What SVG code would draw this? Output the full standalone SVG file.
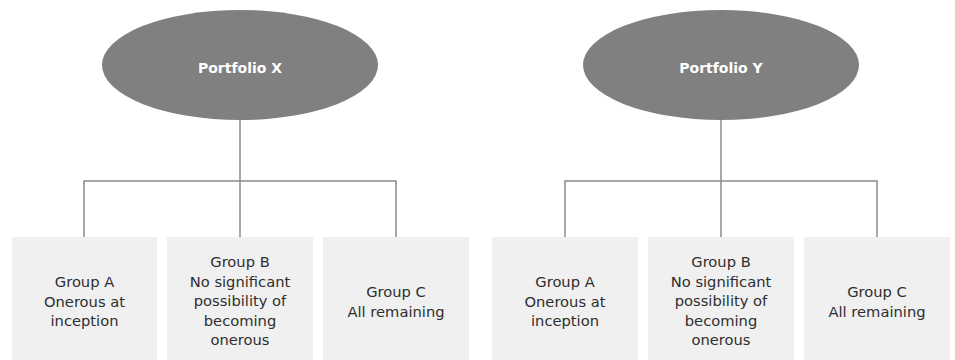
<svg xmlns="http://www.w3.org/2000/svg" width="955" height="360" viewBox="0 0 955 360">
<style>
.ell{fill:#808080}
.box{fill:#f0f0f0}
.conn{fill:none;stroke:#8a8a8a;stroke-width:1.5}
.t{font-family:"DejaVu Sans","Liberation Sans",sans-serif;font-size:14.7px;fill:#2e2e2e;text-anchor:middle}
.h{font-family:"DejaVu Sans","Liberation Sans",sans-serif;font-size:14px;font-weight:bold;fill:#ffffff;text-anchor:middle}
</style>
<rect width="955" height="360" fill="#ffffff"/>
<g id="connectors">
<path class="conn" d="M240,120 V181 M84,237 V181 H396 V237 M240,181 V237"/>
<path class="conn" d="M721,120 V181 M565,237 V181 H877 V237 M721,181 V237"/>
</g>
<g id="portfolio-x"><ellipse class="ell" cx="240" cy="65" rx="138" ry="55"/><text class="h" x="240" y="73">Portfolio X</text></g>
<g id="portfolio-y"><ellipse class="ell" cx="721" cy="65" rx="138" ry="55"/><text class="h" x="721" y="73">Portfolio Y</text></g>
<g id="x-group-a"><rect class="box" x="12" y="237" width="145" height="123"/><text class="t" x="84.5" y="287">Group A</text><text class="t" x="84.5" y="306.5">Onerous at</text><text class="t" x="84.5" y="326">inception</text></g>
<g id="x-group-b"><rect class="box" x="167" y="237" width="146" height="123"/><text class="t" x="240" y="267">Group B</text><text class="t" x="240" y="286.5">No significant</text><text class="t" x="240" y="306">possibility of</text><text class="t" x="240" y="325.5">becoming</text><text class="t" x="240" y="345">onerous</text></g>
<g id="x-group-c"><rect class="box" x="323" y="237" width="146" height="123"/><text class="t" x="396" y="297">Group C</text><text class="t" x="396" y="316.5">All remaining</text></g>
<g id="y-group-a"><rect class="box" x="492" y="237" width="146" height="123"/><text class="t" x="565" y="287">Group A</text><text class="t" x="565" y="306.5">Onerous at</text><text class="t" x="565" y="326">inception</text></g>
<g id="y-group-b"><rect class="box" x="648" y="237" width="146" height="123"/><text class="t" x="721" y="267">Group B</text><text class="t" x="721" y="286.5">No significant</text><text class="t" x="721" y="306">possibility of</text><text class="t" x="721" y="325.5">becoming</text><text class="t" x="721" y="345">onerous</text></g>
<g id="y-group-c"><rect class="box" x="804" y="237" width="146" height="123"/><text class="t" x="877" y="297">Group C</text><text class="t" x="877" y="316.5">All remaining</text></g>
</svg>
